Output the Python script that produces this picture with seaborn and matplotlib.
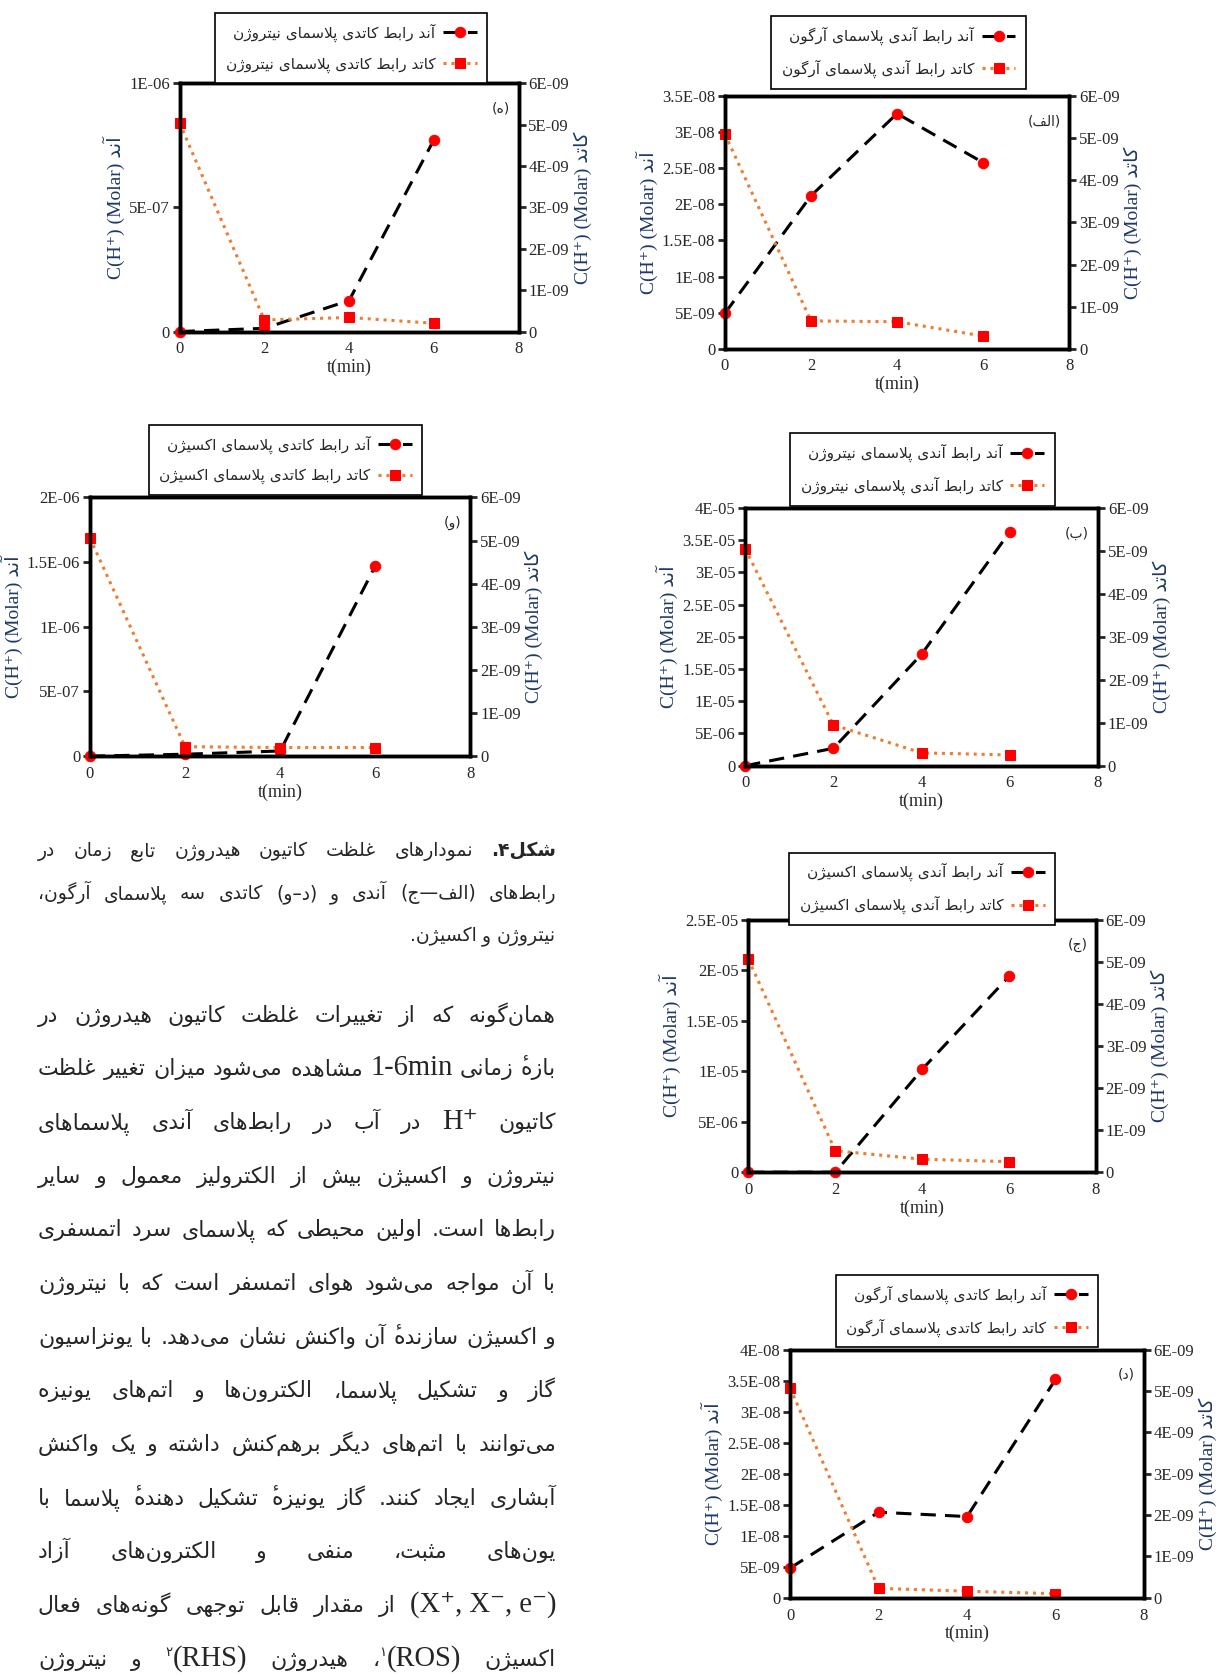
import numpy as np
import pandas as pd
import matplotlib
matplotlib.use("Agg")
import matplotlib.pyplot as plt
import seaborn as sns
from matplotlib.ticker import MultipleLocator, FuncFormatter

sns.set_style("white")
plt.rcParams['font.family'] = ['Liberation Serif', 'DejaVu Sans']

# ── Data ──────────────────────────────────────────────────────
t_min = [0, 2, 4, 6]

anode_alef = [4.9e-9, 2.12e-8, 3.26e-8, 2.58e-8]
cathode_alef = [5.1e-9, 0.66e-9, 0.64e-9, 0.30e-9]

anode_be = [0.0, 2.7e-6, 1.73e-5, 3.63e-5]
cathode_be = [5.05e-9, 0.95e-9, 0.30e-9, 0.25e-9]

anode_jim = [0.0, 0.0, 1.02e-5, 1.94e-5]
cathode_jim = [5.06e-9, 0.51e-9, 0.31e-9, 0.25e-9]

anode_dal = [4.8e-9, 1.38e-8, 1.31e-8, 3.52e-8]
cathode_dal = [5.07e-9, 0.23e-9, 0.16e-9, 0.10e-9]

anode_he = [0.0, 1.3e-8, 1.25e-7, 7.72e-7]
cathode_he = [5.04e-9, 0.28e-9, 0.34e-9, 0.20e-9]

anode_vav = [0.0, 1.5e-8, 4.0e-8, 1.47e-6]
cathode_vav = [5.06e-9, 0.22e-9, 0.20e-9, 0.20e-9]

left_max = {'alef': 3.5e-8, 'be': 4e-5, 'jim': 2.5e-5, 'dal': 4e-8, 'he': 1e-6, 'vav': 2e-6}
left_step = {'alef': 5e-9, 'be': 5e-6, 'jim': 5e-6, 'dal': 5e-9, 'he': 5e-7, 'vav': 5e-7}
right_max = 6e-9
right_step = 1e-9

tags = {'alef': '(الف)', 'be': '(ب)', 'jim': '(ج)', 'dal': '(د)', 'he': '(ه)', 'vav': '(و)'}
legend_texts = {
    'alef': ['آند رابط آندی پلاسمای آرگون', 'کاتد رابط آندی پلاسمای آرگون'],
    'be': ['آند رابط آندی پلاسمای نیتروژن', 'کاتد رابط آندی پلاسمای نیتروژن'],
    'jim': ['آند رابط آندی پلاسمای اکسیژن', 'کاتد رابط آندی پلاسمای اکسیژن'],
    'dal': ['آند رابط کاتدی پلاسمای آرگون', 'کاتد رابط کاتدی پلاسمای آرگون'],
    'he': ['آند رابط کاتدی پلاسمای نیتروژن', 'کاتد رابط کاتدی پلاسمای نیتروژن'],
    'vav': ['آند رابط کاتدی پلاسمای اکسیژن', 'کاتد رابط کاتدی پلاسمای اکسیژن'],
}
series = {
    'alef': (anode_alef, cathode_alef), 'be': (anode_be, cathode_be),
    'jim': (anode_jim, cathode_jim), 'dal': (anode_dal, cathode_dal),
    'he': (anode_he, cathode_he), 'vav': (anode_vav, cathode_vav),
}

# ── Persian shaping (matplotlib has no bidi / joining) ────────
def four(s):
    return tuple(range(s, s + 4))

FORMS = {
    'ء': (0xFE80,), 'آ': (0xFE81, 0xFE82), 'أ': (0xFE83, 0xFE84),
    'ؤ': (0xFE85, 0xFE86), 'إ': (0xFE87, 0xFE88), 'ئ': four(0xFE89),
    'ا': (0xFE8D, 0xFE8E), 'ب': four(0xFE8F), 'ة': (0xFE93, 0xFE94),
    'ت': four(0xFE95), 'ث': four(0xFE99), 'ج': four(0xFE9D),
    'ح': four(0xFEA1), 'خ': four(0xFEA5), 'د': (0xFEA9, 0xFEAA),
    'ذ': (0xFEAB, 0xFEAC), 'ر': (0xFEAD, 0xFEAE), 'ز': (0xFEAF, 0xFEB0),
    'س': four(0xFEB1), 'ش': four(0xFEB5), 'ص': four(0xFEB9),
    'ض': four(0xFEBD), 'ط': four(0xFEC1), 'ظ': four(0xFEC5),
    'ع': four(0xFEC9), 'غ': four(0xFECD), 'ف': four(0xFED1),
    'ق': four(0xFED5), 'ك': four(0xFED9), 'ل': four(0xFEDD),
    'م': four(0xFEE1), 'ن': four(0xFEE5), 'ه': four(0xFEE9),
    'و': (0xFEED, 0xFEEE), 'ى': (0xFEEF, 0xFEF0), 'ي': four(0xFEF1),
    'پ': four(0xFB56), 'چ': four(0xFB7A), 'ژ': (0xFB8A, 0xFB8B),
    'ک': four(0xFB8E), 'گ': four(0xFB92), 'ی': four(0xFBFC),
}
LAM_ALEF = {'آ': (0xFEF5, 0xFEF6), 'أ': (0xFEF7, 0xFEF8),
            'إ': (0xFEF9, 0xFEFA), 'ا': (0xFEFB, 0xFEFC)}


def joins_next(c):
    return c in FORMS and len(FORMS[c]) == 4


def joins_prev(c):
    return c in FORMS and len(FORMS[c]) > 1


def shape(s):
    out = []
    i = 0
    while i < len(s):
        c = s[i]
        if c not in FORMS:
            out.append(c)
            i += 1
            continue
        p = i > 0 and joins_next(s[i - 1])
        if c == 'ل' and i + 1 < len(s) and s[i + 1] in LAM_ALEF:
            iso, fin = LAM_ALEF[s[i + 1]]
            out.append(chr(fin if p else iso))
            i += 2
            continue
        f = FORMS[c]
        q = len(f) == 4 and i + 1 < len(s) and joins_prev(s[i + 1])
        if len(f) == 1:
            g = f[0]
        elif len(f) == 2:
            g = f[1] if p else f[0]
        else:
            g = f[3] if (p and q) else f[1] if p else f[2] if q else f[0]
        out.append(chr(g))
        i += 1
    return ''.join(out)


def fa(s):
    v = shape(s)[::-1]
    v = v.translate(str.maketrans('()', ')('))
    return v.replace('\u200c', '')


# ── Figure ────────────────────────────────────────────────────
fig = plt.figure(figsize=(12.21, 16.77), dpi=100, facecolor='white')

rects = {
    'alef': [0.5937, 0.7921, 0.2820, 0.1505],
    'be': [0.6103, 0.5434, 0.2890, 0.1537],
    'jim': [0.6130, 0.3010, 0.2846, 0.1505],
    'dal': [0.6471, 0.0472, 0.2898, 0.1480],
    'he': [0.1471, 0.8023, 0.2776, 0.1480],
    'vav': [0.0736, 0.5491, 0.3117, 0.1543],
}
legend_anchor = {
    'alef': (0.7360, 0.9949), 'be': (0.7553, 0.7462), 'jim': (0.7553, 0.4962),
    'dal': (0.7920, 0.2443), 'he': (0.2877, 0.9968), 'vav': (0.2338, 0.7513),
}


def excel_fmt(v, pos):
    if abs(v) < 1e-20:
        return '0'
    m, e = f"{v:.1E}".split('E')
    m = m.rstrip('0').rstrip('.')
    return f"{m}E{e}"


label_color = '#1F3864'
ORANGE = '#ED7D31'

for key, rect in rects.items():
    anode, cathode = series[key]
    ax = fig.add_axes(rect)
    ax2 = ax.twinx()

    sns.lineplot(x=t_min, y=anode, ax=ax, color='black', linestyle=(0, (5, 3)),
                 linewidth=2.2, marker='o', markersize=7.5, markerfacecolor='red',
                 markeredgecolor='red', clip_on=False, legend=False)
    sns.lineplot(x=t_min, y=cathode, ax=ax2, color=ORANGE, linestyle=(0, (1, 1.6)),
                 linewidth=2.2, marker='s', markersize=7.5, markerfacecolor='red',
                 markeredgecolor='red', clip_on=False, legend=False)

    ax.set_xlim(0, 8)
    ax.set_ylim(0, left_max[key])
    ax2.set_ylim(0, right_max)
    ax.xaxis.set_major_locator(MultipleLocator(2))
    ax.yaxis.set_major_locator(MultipleLocator(left_step[key]))
    ax2.yaxis.set_major_locator(MultipleLocator(right_step))
    ax.yaxis.set_major_formatter(FuncFormatter(excel_fmt))
    ax2.yaxis.set_major_formatter(FuncFormatter(excel_fmt))

    for a in (ax, ax2):
        for sp in a.spines.values():
            sp.set_linewidth(2.5)
            sp.set_color('black')
        a.tick_params(direction='out', length=5, width=2, labelsize=12, pad=2)

    ax.set_xlabel('t(min)', fontsize=13, labelpad=1)
    ax.set_ylabel('C(H⁺) (Molar) ' + fa('آند'), fontsize=14, color=label_color, labelpad=3)
    ax2.set_ylabel('C(H⁺) (Molar) ' + fa('کاتد'), fontsize=14, color=label_color,
                   labelpad=3, rotation=90)

    ax.text(0.975, 0.9, fa(tags[key]), transform=ax.transAxes, ha='right', va='center',
            family=['DejaVu Sans'], fontsize=10)

    handles = [ax.lines[0], ax2.lines[0]]
    leg = fig.legend(handles, [fa(s) for s in legend_texts[key]], loc='upper center',
                     bbox_to_anchor=legend_anchor[key], bbox_transform=fig.transFigure,
                     markerfirst=False, frameon=True, fancybox=False, edgecolor='black',
                     framealpha=1, prop={'family': ['DejaVu Sans'], 'size': 11},
                     handlelength=2.2, borderpad=0.7, labelspacing=0.95,
                     handletextpad=0.5)
    leg.get_frame().set_linewidth(1.2)

# ── Caption and paragraph (word by word, right to left) ──────
renderer = fig.canvas.get_renderer()
FW, FH = fig.bbox.width, fig.bbox.height


def measure(s, st):
    if st.get('over'):
        return 0.0
    tx = fig.text(0, 0, s, family=st['family'], size=st['size'], weight=st.get('weight', 'normal'))
    w = tx.get_window_extent(renderer).width / FW
    tx.remove()
    return w


def natural(words, space):
    ws = [sum(measure(s, st) for s, st in w) for w in words]
    return sum(ws) + space * (len(ws) - 1), ws


def draw_line(words, y, x_left, x_right, justify, space):
    total, ws = natural(words, space)
    gap = space
    if justify and len(words) > 1:
        gap = (x_right - x_left - (total - space * (len(ws) - 1))) / (len(ws) - 1)
    x = x_right
    for w, ww in zip(words, ws):
        xx = x
        for s, st in w:
            if st.get('over'):
                # hamza sitting on the final heh (leftmost glyph of the word)
                fig.text(xx + st['over'], y + st.get('dy', 0), s, ha='center', va='baseline',
                         family=st['family'], size=st['size'])
                continue
            fig.text(xx, y + st.get('dy', 0), s, ha='right', va='baseline',
                     family=st['family'], size=st['size'], weight=st.get('weight', 'normal'))
            xx -= measure(s, st)
        x -= ww + gap


def word(w, st):
    if w.endswith('ۀ'):
        em = st['size'] * 100 / 72
        hamza = {'family': st['family'], 'size': st['size'] * 0.6,
                 'dy': 0.62 * em / FH, 'over': 0.24 * em / FW}
        return [(fa(w[:-1] + 'ه'), st), ('ء', hamza)]
    return [(fa(w), st)]


def ar(text, st):
    return [word(w, st) for w in text.split()]


x_left, x_right = 38 / FW, 556 / FW


def styles(size):
    return ({'family': ['DejaVu Sans'], 'size': size},
            {'family': ['Liberation Serif', 'DejaVu Sans'], 'size': size * 1.3},
            {'family': ['DejaVu Sans'], 'size': size * 0.6, 'dy': 0.006},
            {'family': ['DejaVu Sans'], 'size': size, 'weight': 'bold'})


def caption_lines(size):
    A, L, S, B = styles(size)
    return [
        [[(fa('شکل۴.'), B)]] + ar('نمودارهای غلظت کاتیون هیدروژن تابع زمان در', A),
        ar('رابط‌های (الف—ج) آندی و (د–و) کاتدی سه پلاسمای آرگون،', A),
        ar('نیتروژن و اکسیژن.', A),
    ]


def body_lines(size):
    A, L, S, B = styles(size)
    return [
        ar('همان‌گونه که از تغییرات غلظت کاتیون هیدروژن در', A),
        ar('بازۀ زمانی', A) + [[('1-6min', L)]] + ar('مشاهده می‌شود میزان تغییر غلظت', A),
        ar('کاتیون', A) + [[('H⁺', L)]] + ar('در آب در رابط‌های آندی پلاسماهای', A),
        ar('نیتروژن و اکسیژن بیش از الکترولیز معمول و سایر', A),
        ar('رابط‌ها است. اولین محیطی که پلاسمای سرد اتمسفری', A),
        ar('با آن مواجه می‌شود هوای اتمسفر است که با نیتروژن', A),
        ar('و اکسیژن سازندۀ آن واکنش نشان می‌دهد. با یونزاسیون', A),
        ar('گاز و تشکیل پلاسما، الکترون‌ها و اتم‌های یونیزه', A),
        ar('می‌توانند با اتم‌های دیگر برهم‌کنش داشته و یک واکنش', A),
        ar('آبشاری ایجاد کنند. گاز یونیزۀ تشکیل دهندۀ پلاسما با', A),
        ar('یون‌های مثبت، منفی و الکترون‌های آزاد', A),
        [[('(X⁺, X⁻, e⁻)', L)]] + ar('از مقدار قابل توجهی گونه‌های فعال', A),
        ar('اکسیژن', A) + [[('(ROS)', L), (fa('۱'), S), (fa('،'), A)]] + ar('هیدروژن', A)
        + [[('(RHS)', L), (fa('۲'), S)]] + ar('و نیتروژن', A),
    ]


def fit_size(builder, base, justified_idx):
    lines = builder(base)
    widest = max(natural(lines[i], base * 0.3 * 100 / 72 / FW)[0] for i in justified_idx)
    return base * min(1.0, 0.99 * (x_right - x_left) / widest)


cap_size = fit_size(caption_lines, 13.5, [0, 1])
body_size = fit_size(body_lines, 16, range(13))

cap_y = [848, 891, 933]
for i, words in enumerate(caption_lines(cap_size)):
    draw_line(words, 1 - (cap_y[i] + 8) / FH, x_left, x_right, i < 2,
              cap_size * 0.3 * 100 / 72 / FW)

for i, words in enumerate(body_lines(body_size)):
    yc = (948 + 50.2 * i) * 1221 / 1142
    draw_line(words, 1 - (yc + 8) / FH, x_left, x_right, True,
              body_size * 0.3 * 100 / 72 / FW)

fig.savefig('out.png', dpi=100, facecolor='white')
